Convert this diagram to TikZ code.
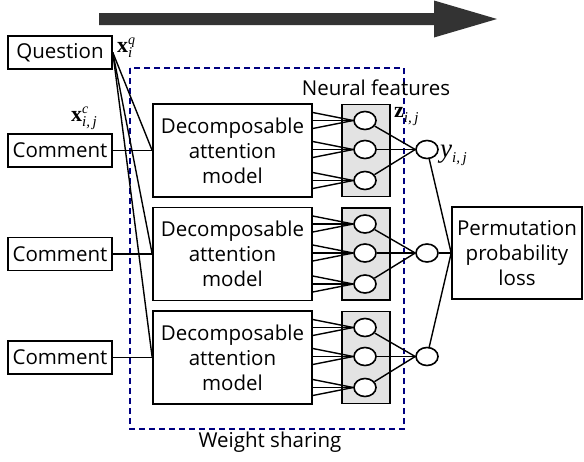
\documentclass[tikz,border=0pt]{standalone}
\usepackage{fontspec}
\setmainfont{Open Sans}
\newfontfamily\labserif{Liberation Serif}
\usetikzlibrary{shapes.geometric}
\definecolor{arrgray}{HTML}{333333}
\definecolor{nfgray}{HTML}{E3E3E3}
\definecolor{wsblue}{HTML}{000080}
% size, base font style, base letter, superscript, subscript
\newcommand{\mylab}[5]{{\labserif\fontsize{#1}{#1}\selectfont#2{#3}}%
  \makebox[0pt][l]{\raisebox{8pt}{\labserif\itshape\fontsize{14}{14}\selectfont#4}}%
  \raisebox{-5pt}{\labserif\itshape\fontsize{15}{15}\selectfont#5}}
\begin{document}
\begin{tikzpicture}[x=1pt,y=-1pt,
  txt/.style={font=\fontsize{20.5}{25}\selectfont},
  mth/.style={inner sep=0},
  inbox/.style={draw, line width=1.6pt, fill=white, inner sep=0, txt, minimum width=104pt, minimum height=33pt},
  dambox/.style={draw, line width=1.6pt, fill=white, inner sep=0, txt, align=center, minimum width=159pt, minimum height=93pt},
  nfbox/.style={draw, line width=1.6pt, fill=nfgray, inner sep=0, minimum width=48pt, minimum height=92pt},
  neuron/.style={draw, ellipse, line width=1.6pt, fill=white, inner sep=0, minimum width=22pt, minimum height=18pt},
  conn/.style={line width=1.4pt}]
\useasboundingbox (0,0) rectangle (584,461);

% progress arrow
\fill[arrgray] (99,13) -- (434,13) -- (434,0.5) -- (497,19) -- (434,37.5) -- (434,25) -- (99,25) -- cycle;

% weight sharing region
\draw[wsblue, line width=1.3pt, dash pattern=on 6pt off 4pt] (130,68) rectangle (404,429);
\node[txt] (ws) at (270,442) {Weight sharing};
\node[txt] (nf) at (376,88) {Neural features};

% inputs
\node[inbox] (q) at (60,52.5) {Question};
\node[inbox] (c1) at (60,150.5) {Comment};
\node[inbox] (c2) at (60,254) {Comment};
\node[inbox] (c3) at (60,357.5) {Comment};

% decomposable attention models
\foreach \i/\y in {1/150.5,2/254,3/357.5}{
  \node[dambox] (d\i) at (232.5,\y) {Decomposable\\attention\\model};
  \node[nfbox] (g\i) at (366,\y) {};
  \node[neuron] (n\i a) at (365,\y-30) {};
  \node[neuron] (n\i b) at (365,\y-1) {};
  \node[neuron] (n\i c) at (365,\y+30) {};
  \node[neuron] (o\i) at (427,\y-1) {};
}

\node[draw, line width=1.6pt, inner sep=0, txt, align=center, minimum width=130pt, minimum height=92pt] (p) at (517,253) {Permutation\\probability\\loss};

% connectors
\foreach \i in {1,2,3}{
  \draw[conn] (q.east) -- (d\i.west);
  \draw[conn] (c\i.east) -- (d\i.west);
  \foreach \k in {a,b,c}{
    \draw[conn] ([yshift=-8pt]n\i\k.west -| d\i.east) -- (n\i\k.west);
    \draw[conn] (n\i\k.west -| d\i.east) -- (n\i\k.west);
    \draw[conn] ([yshift=8pt]n\i\k.west -| d\i.east) -- (n\i\k.west);
    \draw[conn] (n\i\k) -- (o\i.west);
  }
  \draw[conn] (o\i) -- (p.west);
}

% labels
\node[mth, anchor=base west] (xq) at (117,52) {\mylab{22}{\bfseries}{x}{q}{i}};
\node[mth, anchor=base west] (xc) at (71,121) {\mylab{22}{\bfseries}{x}{c}{i,\,j}};
\node[mth, anchor=base west] (z) at (394,117) {\mylab{22}{\bfseries}{z}{}{i,\,j}};
\node[mth, anchor=base west] (y) at (440,157) {\mylab{27}{\itshape}{y}{}{i,\,j}};
\end{tikzpicture}
\end{document}
